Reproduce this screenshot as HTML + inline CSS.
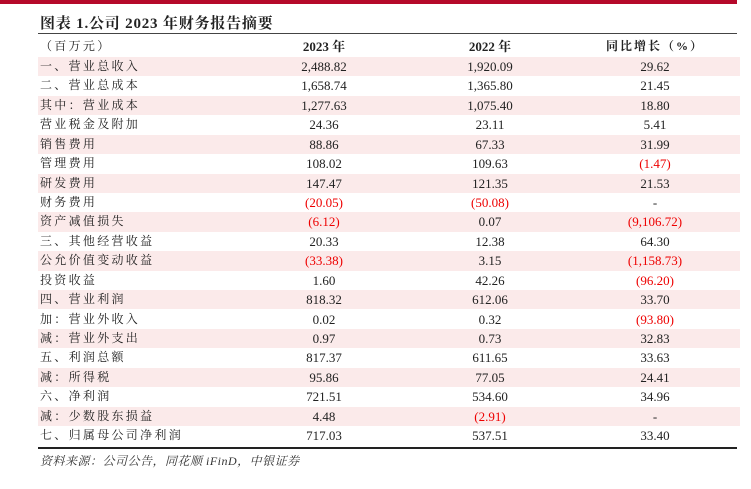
<!DOCTYPE html><html><head><meta charset="utf-8"><style>
body{margin:0;width:751px;height:489px;background:#fff;position:relative;overflow:hidden;font-family:"Liberation Serif","Noto Serif CJK SC",serif;color:#222}
.bar{position:absolute;left:0;top:0;width:737px;height:4px;background:#b5092a}
.title{position:absolute;left:40px;top:12px;font-size:15px;font-weight:bold;letter-spacing:0.8px}
.hl{position:absolute;left:38px;width:699px;background:#444}
.r{position:absolute;left:38px;width:702px;height:19.4px;font-size:13px;line-height:19.4px}
.r.s{background:#fbeaea}
.r span{position:absolute;top:0}
.l{left:2px;letter-spacing:2.3px;font-family:"Liberation Serif","Noto Serif CJK SC",serif;font-size:12px}
.a{left:236px;width:100px;text-align:center}
.b{left:402px;width:100px;text-align:center}
.c{left:567px;width:100px;text-align:center}
.red{color:#e00}
.src{position:absolute;left:40px;top:452px;font-size:12px;font-style:italic;color:#333;letter-spacing:.5px}
</style></head><body>
<div class="bar"></div>
<div class="title">图表 1.公司 2023 年财务报告摘要</div>
<div class="hl" style="top:33px;height:1px"></div>
<div class="r" style="top:37px;height:20px"><span class="l">（百万元）</span><span class="a"><b>2023 年</b></span><span class="b"><b>2022 年</b></span><span class="c" style="letter-spacing:2px;font-size:12px"><b>同比增长（%）</b></span></div>
<div class="r s" style="top:57px"><span class="l">一、营业总收入</span><span class="a">2,488.82</span><span class="b">1,920.09</span><span class="c">29.62</span></div>
<div class="r" style="top:76.4px"><span class="l">二、营业总成本</span><span class="a">1,658.74</span><span class="b">1,365.80</span><span class="c">21.45</span></div>
<div class="r s" style="top:95.8px"><span class="l">其中：营业成本</span><span class="a">1,277.63</span><span class="b">1,075.40</span><span class="c">18.80</span></div>
<div class="r" style="top:115.3px"><span class="l">营业税金及附加</span><span class="a">24.36</span><span class="b">23.11</span><span class="c">5.41</span></div>
<div class="r s" style="top:134.7px"><span class="l">销售费用</span><span class="a">88.86</span><span class="b">67.33</span><span class="c">31.99</span></div>
<div class="r" style="top:154.1px"><span class="l">管理费用</span><span class="a">108.02</span><span class="b">109.63</span><span class="c red">(1.47)</span></div>
<div class="r s" style="top:173.5px"><span class="l">研发费用</span><span class="a">147.47</span><span class="b">121.35</span><span class="c">21.53</span></div>
<div class="r" style="top:192.9px"><span class="l">财务费用</span><span class="a red">(20.05)</span><span class="b red">(50.08)</span><span class="c">-</span></div>
<div class="r s" style="top:212.4px"><span class="l">资产减值损失</span><span class="a red">(6.12)</span><span class="b">0.07</span><span class="c red">(9,106.72)</span></div>
<div class="r" style="top:231.8px"><span class="l">三、其他经营收益</span><span class="a">20.33</span><span class="b">12.38</span><span class="c">64.30</span></div>
<div class="r s" style="top:251.2px"><span class="l">公允价值变动收益</span><span class="a red">(33.38)</span><span class="b">3.15</span><span class="c red">(1,158.73)</span></div>
<div class="r" style="top:270.6px"><span class="l">投资收益</span><span class="a">1.60</span><span class="b">42.26</span><span class="c red">(96.20)</span></div>
<div class="r s" style="top:290px"><span class="l">四、营业利润</span><span class="a">818.32</span><span class="b">612.06</span><span class="c">33.70</span></div>
<div class="r" style="top:309.5px"><span class="l">加：营业外收入</span><span class="a">0.02</span><span class="b">0.32</span><span class="c red">(93.80)</span></div>
<div class="r s" style="top:328.9px"><span class="l">减：营业外支出</span><span class="a">0.97</span><span class="b">0.73</span><span class="c">32.83</span></div>
<div class="r" style="top:348.3px"><span class="l">五、利润总额</span><span class="a">817.37</span><span class="b">611.65</span><span class="c">33.63</span></div>
<div class="r s" style="top:367.7px"><span class="l">减：所得税</span><span class="a">95.86</span><span class="b">77.05</span><span class="c">24.41</span></div>
<div class="r" style="top:387.1px"><span class="l">六、净利润</span><span class="a">721.51</span><span class="b">534.60</span><span class="c">34.96</span></div>
<div class="r s" style="top:406.6px"><span class="l">减：少数股东损益</span><span class="a">4.48</span><span class="b red">(2.91)</span><span class="c">-</span></div>
<div class="r" style="top:426px"><span class="l">七、归属母公司净利润</span><span class="a">717.03</span><span class="b">537.51</span><span class="c">33.40</span></div>
<div class="hl" style="top:447px;height:1.5px;background:#222"></div>
<div class="src">资料来源：公司公告，同花顺 iFinD，中银证券</div>
</body></html>
